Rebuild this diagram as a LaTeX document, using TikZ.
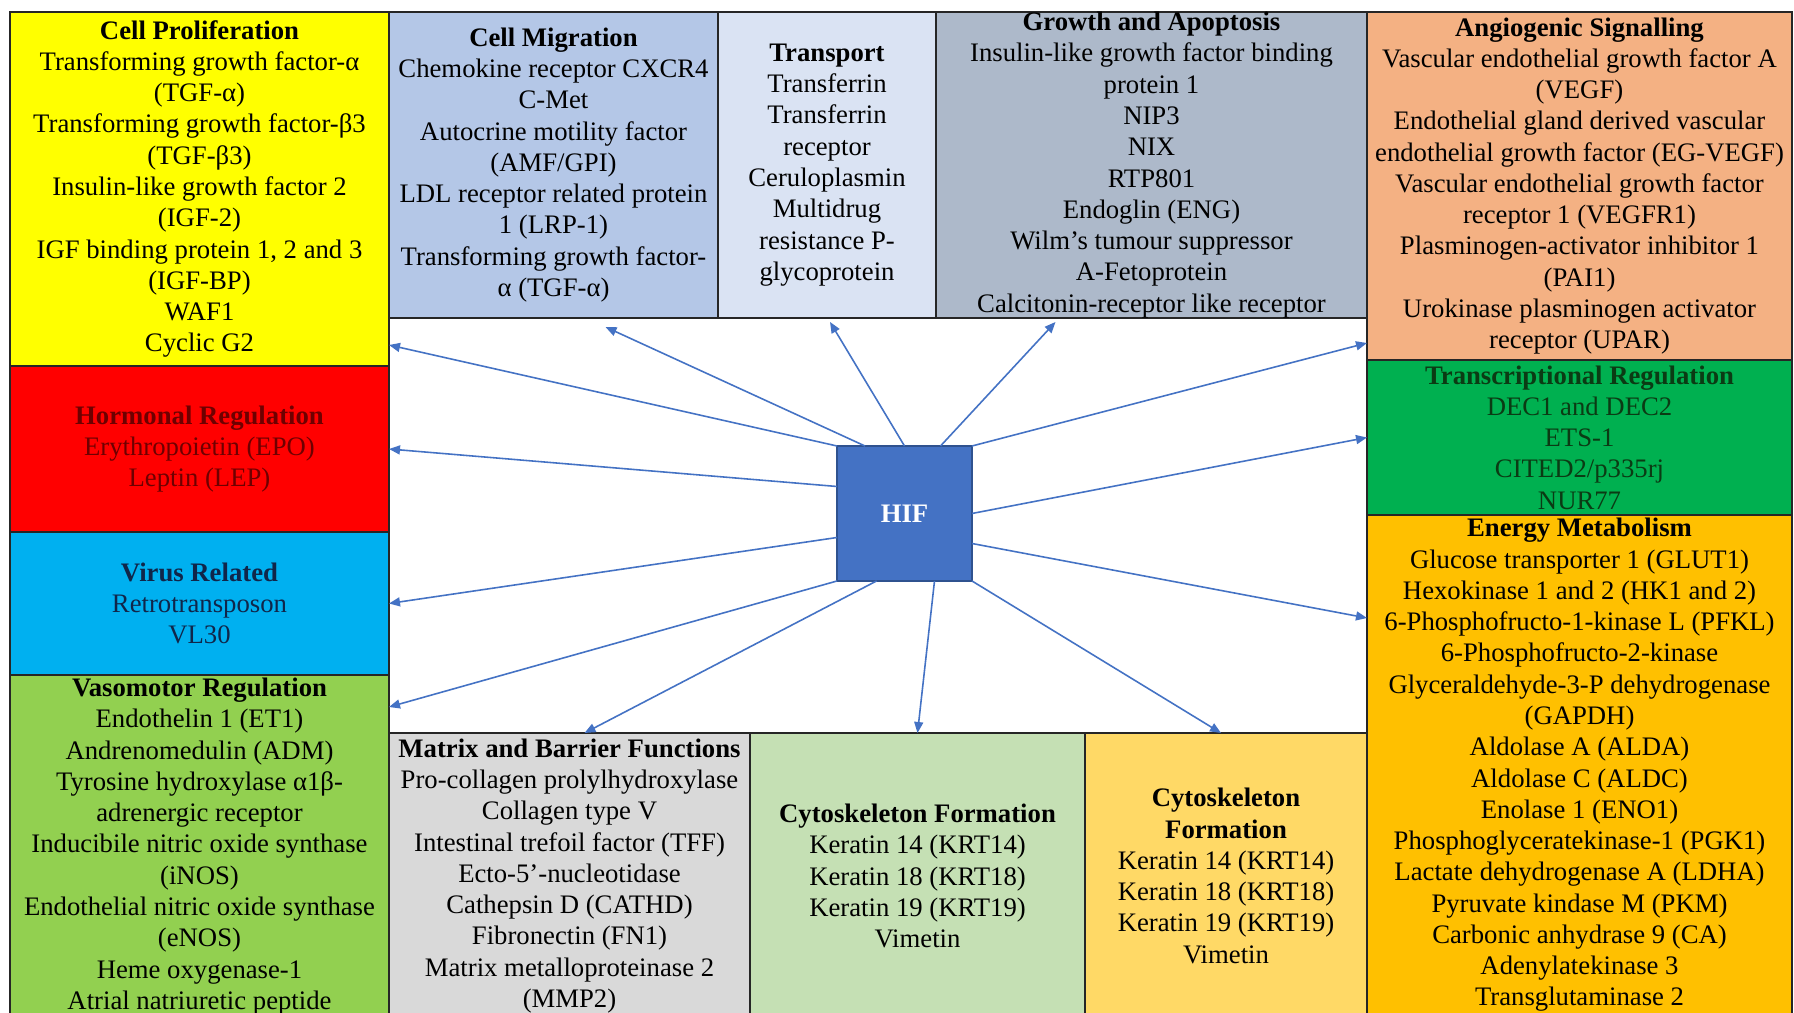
\documentclass[tikz,border=0pt]{standalone}
\usepackage{fontspec}
\setmainfont{Liberation Serif}
\usepackage{tikz}
\usetikzlibrary{arrows.meta,calc}
\definecolor{prolifcol}{HTML}{FFFF00}
\definecolor{hormoncol}{HTML}{FF0000}
\definecolor{viruscol}{HTML}{00B0F0}
\definecolor{vasocol}{HTML}{92D050}
\definecolor{migrcol}{HTML}{B4C7E7}
\definecolor{transpcol}{HTML}{DAE3F3}
\definecolor{growthcol}{HTML}{ADB9CA}
\definecolor{angiocol}{HTML}{F4B183}
\definecolor{transccol}{HTML}{00B050}
\definecolor{energycol}{HTML}{FFC000}
\definecolor{matrixcol}{HTML}{D9D9D9}
\definecolor{cytoAcol}{HTML}{C5E0B4}
\definecolor{cytoBcol}{HTML}{FFD966}
\definecolor{hifcol}{HTML}{4472C4}
\definecolor{hifedge}{HTML}{2F528F}
\tikzset{
  catbox/.style={ draw=black!85, line width=0.5pt, anchor=north west, inner sep=0pt, outer sep=0pt,
    align=center, font=\fontsize{7.6}{8.9}\selectfont }
}
\tikzset{
  hifbox/.style={ draw=hifedge, line width=0.6pt, fill=hifcol, text=white, anchor=north west,
    inner sep=0pt, outer sep=0pt, minimum width=13.5mm, minimum height=13.5mm, font=\fontsize{7.6}{8.9}\selectfont\bfseries }
}
\tikzset{
  hifarrow/.style={ draw=hifcol, line width=0.45pt, -{Triangle[length=1.1mm, width=0.9mm]} }
}

\begin{document}
\begin{tikzpicture}[x=0.1mm, y=-0.1mm]
  \useasboundingbox (0,0) rectangle (1794,1013);
  \fill[white] (0,0) rectangle (1794,1013);
  \clip (0,0) rectangle (1794,1013);

  % left column
  \node[catbox, fill=prolifcol, minimum width=37.9mm, minimum height=35.4mm] (prolif) at (10,12)
    {\textbf{Cell Proliferation}\\ Transforming growth factor-α\\ (TGF-α)\\ Transforming growth factor-β3\\
     (TGF-β3)\\ Insulin-like growth factor 2\\ (IGF-2)\\ IGF binding protein 1, 2 and 3\\ (IGF-BP)\\ WAF1\\ Cyclic G2};
  \node[catbox, fill=hormoncol, text={rgb,255:red,110;green,0;blue,0}, minimum width=37.9mm, minimum height=16.6mm] (hormon) at (10,366)
    {\textbf{Hormonal Regulation}\\ Erythropoietin (EPO)\\ Leptin (LEP)};
  \node[catbox, fill=viruscol, text={rgb,255:red,16;green,38;blue,74}, minimum width=37.9mm, minimum height=14.3mm] (virus) at (10,532)
    {\textbf{Virus Related}\\ Retrotransposon\\ VL30};
  \node[catbox, fill=vasocol, minimum width=37.9mm, minimum height=34.3mm] (vaso) at (10,675)
    {\textbf{Vasomotor Regulation}\\ Endothelin 1 (ET1)\\ Andrenomedulin (ADM)\\ Tyrosine hydroxylase α1β-\\
     adrenergic receptor\\ Inducibile nitric oxide synthase\\ (iNOS)\\ Endothelial nitric oxide synthase\\
     (eNOS)\\ Heme oxygenase-1\\ Atrial natriuretic peptide};

  % top row
  \node[catbox, fill=migrcol, minimum width=32.9mm, minimum height=30.6mm] (migr) at (389,12)
    {\textbf{Cell Migration}\\ Chemokine receptor CXCR4\\ C-Met\\ Autocrine motility factor\\ (AMF/GPI)\\
     LDL receptor related protein\\ 1 (LRP-1)\\ Transforming growth factor-\\ α (TGF-α)};
  \node[catbox, fill=transpcol, minimum width=21.8mm, minimum height=30.6mm] (transp) at (718,12)
    {\textbf{Transport}\\ Transferrin\\ Transferrin\\ receptor\\ Ceruloplasmin\\ Multidrug\\ resistance P-\\ glycoprotein};
  \node[catbox, fill=growthcol, minimum width=43.1mm, minimum height=30.6mm] (growth) at (936,12)
    {\textbf{Growth and Apoptosis}\\ Insulin-like growth factor binding\\ protein 1\\ NIP3\\ NIX\\ RTP801\\
     Endoglin (ENG)\\ Wilm’s tumour suppressor\\ A-Fetoprotein\\ Calcitonin-receptor like receptor};

  % right column
  \node[catbox, fill=angiocol, minimum width=42.5mm, minimum height=34.8mm] (angio) at (1367,12)
    {\textbf{Angiogenic Signalling}\\ Vascular endothelial growth factor A\\ (VEGF)\\ Endothelial gland derived vascular\\
     endothelial growth factor (EG-VEGF)\\ Vascular endothelial growth factor\\ receptor 1 (VEGFR1)\\
     Plasminogen-activator inhibitor 1\\ (PAI1)\\ Urokinase plasminogen activator\\ receptor (UPAR)};
  \node[catbox, fill=transccol, text={rgb,255:red,11;green,59;blue,20}, minimum width=42.5mm, minimum height=15.5mm] (transc) at (1367,360)
    {\textbf{Transcriptional Regulation}\\ DEC1 and DEC2\\ ETS-1\\ CITED2/p335rj\\ NUR77};
  \node[catbox, fill=energycol, minimum width=42.5mm, minimum height=50.0mm] (energy) at (1367,515)
    {\textbf{Energy Metabolism}\\ Glucose transporter 1 (GLUT1)\\ Hexokinase 1 and 2 (HK1 and 2)\\
     6-Phosphofructo-1-kinase L (PFKL)\\ 6-Phosphofructo-2-kinase\\ Glyceraldehyde-3-P dehydrogenase\\
     (GAPDH)\\ Aldolase A (ALDA)\\ Aldolase C (ALDC)\\ Enolase 1 (ENO1)\\ Phosphoglyceratekinase-1 (PGK1)\\
     Lactate dehydrogenase A (LDHA)\\ Pyruvate kindase M (PKM)\\ Carbonic anhydrase 9 (CA)\\
     Adenylatekinase 3\\ Transglutaminase 2};

  % bottom row
  \node[catbox, fill=matrixcol, minimum width=36.1mm, minimum height=28.6mm] (matrix) at (389,733)
    {\textbf{Matrix and Barrier Functions}\\ Pro-collagen prolylhydroxylase\\ Collagen type V\\
     Intestinal trefoil factor (TFF)\\ Ecto-5’-nucleotidase\\ Cathepsin D (CATHD)\\ Fibronectin (FN1)\\
     Matrix metalloproteinase 2\\ (MMP2)};
  \node[catbox, fill=cytoAcol, minimum width=33.5mm, minimum height=28.6mm] (cytoA) at (750,733)
    {\textbf{Cytoskeleton Formation}\\ Keratin 14 (KRT14)\\ Keratin 18 (KRT18)\\ Keratin 19 (KRT19)\\ Vimetin};
  \node[catbox, fill=cytoBcol, minimum width=28.2mm, minimum height=28.6mm] (cytoB) at (1085,733)
    {\textbf{Cytoskeleton}\\ \textbf{Formation}\\ Keratin 14 (KRT14)\\ Keratin 18 (KRT18)\\ Keratin 19 (KRT19)\\ Vimetin};

  % centre
  \node[hifbox] (hif) at (837,446) {HIF};

  \draw[hifarrow] (hif.north west) -- ($(prolif.south east)+(0,-21)$);
  \draw[hifarrow] ($(hif.north west)+(28,0)$) -- ($(migr.south)+(52,9)$);
  \draw[hifarrow] (hif.north) -- ($(transp.south)+(3,4)$);
  \draw[hifarrow] ($(hif.north)+(36,0)$) -- ($(growth.south)+(-96,4)$);
  \draw[hifarrow] (hif.north east) -- ($(angio.south west)+(0,-17)$);
  \draw[hifarrow] (hif.east) -- (transc.west);
  \draw[hifarrow] ($(hif.east)+(0,30)$) -- ($(energy.north west)+(0,103)$);
  \draw[hifarrow] (hif.south east) -- ($(cytoB.north)+(-5,0)$);
  \draw[hifarrow] ($(hif.south)+(30,0)$) -- (cytoA.north);
  \draw[hifarrow] ($(hif.south)+(-28,0)$) -- ($(matrix.north)+(15,0)$);
  \draw[hifarrow] (hif.south west) -- ($(vaso.north east)+(0,32)$);
  \draw[hifarrow] ($(hif.west)+(0,24)$) -- (virus.east);
  \draw[hifarrow] ($(hif.west)+(0,-27)$) -- (hormon.east);
\end{tikzpicture}
\end{document}
